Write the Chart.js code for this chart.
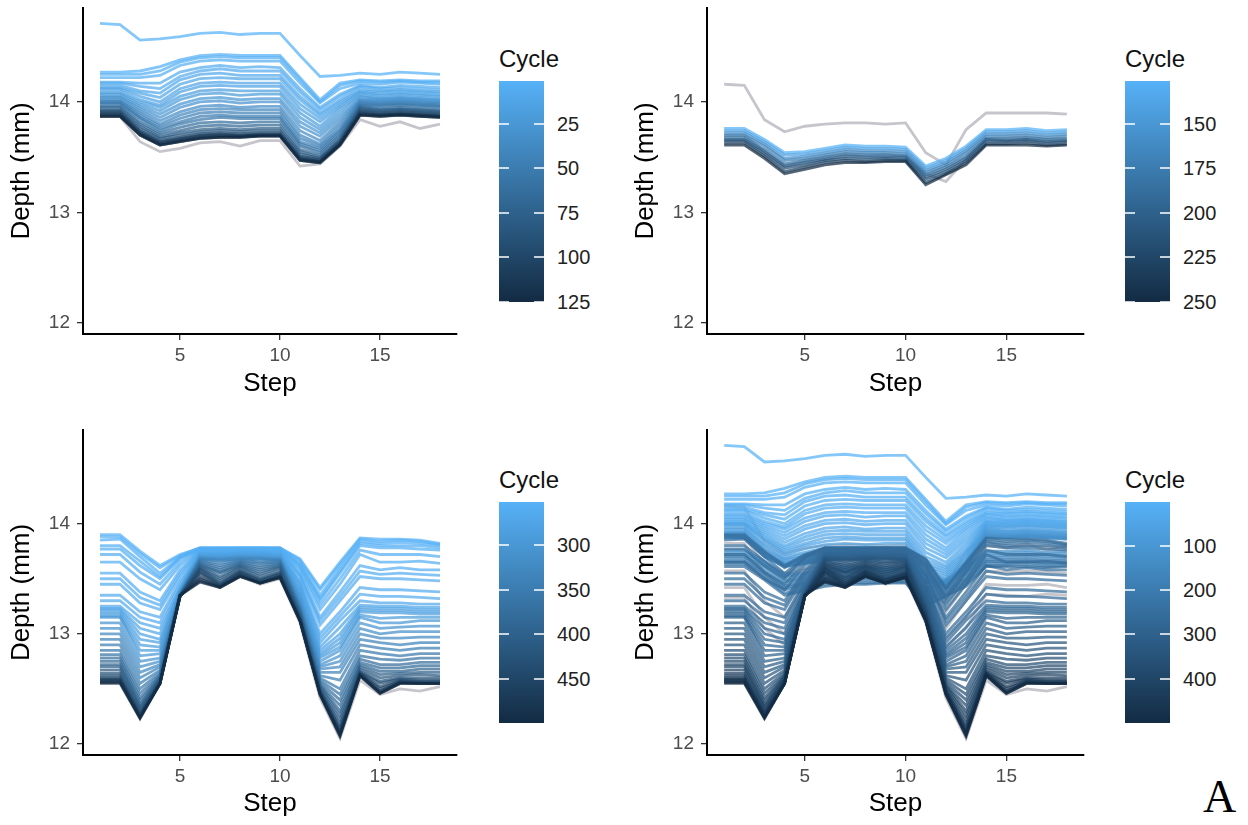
<!DOCTYPE html>
<html>
<head>
<meta charset="utf-8">
<script src="https://cdn.jsdelivr.net/npm/chart.js@4.4.0/dist/chart.umd.min.js"></script>
<style>
body { margin:0; background:#fff; width:1248px; height:825px; position:relative; overflow:hidden; font-family:"Liberation Sans", Arial, sans-serif; }
canvas { position:absolute; }
.bar { position:absolute; width:45px; height:221px; background:linear-gradient(#56B1F7, #132B43); }
.tk { position:absolute; height:2px; width:10px; background:rgba(255,255,255,0.75); }
.lab { position:absolute; font-size:20px; line-height:20px; color:#222; }
.ttl { position:absolute; font-size:24px; line-height:24px; color:#111; }
#tagA { position:absolute; left:1203px; top:770px; font:46px "Liberation Serif", serif; color:#000; }
</style>
</head>
<body>
<canvas id="c1" width="470" height="403" style="left:0px;top:0px"></canvas>
<canvas id="c2" width="470" height="403" style="left:624px;top:0px"></canvas>
<canvas id="c3" width="470" height="403" style="left:0px;top:420px"></canvas>
<canvas id="c4" width="470" height="403" style="left:624px;top:420px"></canvas>
<div id="tagA">A</div>
<script>
var steps = [1,2,3,4,5,6,7,8,9,10,11,12,13,14,15,16,17,18];
var xTicks = [5, 10, 15];
var yTicks = [12, 13, 14];

// cycles 1-125
var p1Cycles = [1, 2, 3, 4, 6, 7, 9, 11, 13, 15, 18, 21, 25, 30, 35, 40, 45, 50, 55, 62, 70, 78, 85, 92, 100, 108, 115, 120, 125];
var p1Depth = [
  [14.71,14.70,14.56,14.57,14.59,14.62,14.63,14.61,14.62,14.62,14.42,14.23,14.24,14.26,14.25,14.27,14.26,14.25],
  [14.27,14.27,14.28,14.32,14.38,14.42,14.43,14.42,14.42,14.42,14.22,14.02,14.17,14.20,14.19,14.20,14.19,14.19],
  [14.25,14.25,14.25,14.28,14.36,14.40,14.41,14.40,14.40,14.40,14.20,14.00,14.15,14.19,14.18,14.19,14.18,14.18],
  [14.22,14.22,14.22,14.24,14.33,14.37,14.38,14.37,14.37,14.37,14.17,13.99,14.12,14.17,14.16,14.18,14.17,14.16],
  [14.18,14.18,14.17,14.17,14.27,14.31,14.33,14.31,14.32,14.31,14.12,13.95,14.07,14.15,14.13,14.15,14.14,14.13],
  [14.17,14.17,14.14,14.12,14.23,14.28,14.30,14.28,14.28,14.28,14.09,13.93,14.05,14.14,14.12,14.13,14.12,14.11],
  [14.15,14.15,14.10,14.08,14.20,14.25,14.26,14.24,14.24,14.24,14.05,13.90,14.02,14.12,14.10,14.11,14.10,14.09],
  [14.13,14.13,14.08,14.04,14.16,14.21,14.22,14.21,14.21,14.21,14.02,13.88,14.00,14.10,14.09,14.10,14.09,14.08],
  [14.12,14.12,14.05,14.00,14.12,14.17,14.18,14.17,14.17,14.17,13.98,13.85,13.98,14.09,14.07,14.08,14.07,14.06],
  [14.10,14.10,14.02,13.97,14.09,14.14,14.15,14.14,14.14,14.14,13.94,13.82,13.96,14.08,14.06,14.07,14.06,14.05],
  [14.08,14.08,14.00,13.95,14.05,14.10,14.11,14.10,14.10,14.10,13.90,13.78,13.94,14.06,14.04,14.05,14.04,14.03],
  [14.07,14.07,13.98,13.92,14.02,14.07,14.08,14.06,14.07,14.07,13.86,13.75,13.91,14.05,14.03,14.04,14.03,14.02],
  [14.05,14.05,13.96,13.89,13.98,14.03,14.04,14.02,14.03,14.03,13.82,13.72,13.88,14.03,14.02,14.03,14.02,14.01],
  [14.04,14.04,13.94,13.86,13.95,14.00,14.01,13.99,14.00,14.00,13.78,13.69,13.85,14.02,14.01,14.02,14.01,14.00],
  [14.02,14.02,13.92,13.83,13.91,13.96,13.97,13.95,13.96,13.96,13.74,13.65,13.82,14.01,14.00,14.01,14.00,13.99],
  [14.01,14.01,13.90,13.80,13.88,13.93,13.94,13.93,13.93,13.93,13.70,13.62,13.79,14.00,13.99,14.00,13.99,13.98],
  [14.00,14.00,13.88,13.78,13.85,13.90,13.91,13.90,13.90,13.90,13.67,13.60,13.76,13.99,13.98,13.99,13.98,13.97],
  [13.99,13.99,13.86,13.76,13.82,13.87,13.88,13.87,13.87,13.87,13.64,13.58,13.74,13.98,13.97,13.98,13.97,13.96],
  [13.98,13.98,13.85,13.74,13.80,13.84,13.86,13.85,13.85,13.85,13.62,13.56,13.72,13.97,13.96,13.97,13.96,13.95],
  [13.96,13.96,13.82,13.72,13.77,13.81,13.82,13.81,13.82,13.82,13.60,13.54,13.70,13.96,13.94,13.95,13.94,13.93],
  [13.95,13.95,13.80,13.70,13.74,13.78,13.79,13.78,13.79,13.79,13.57,13.52,13.68,13.95,13.93,13.94,13.93,13.92],
  [13.93,13.93,13.78,13.68,13.72,13.75,13.76,13.75,13.76,13.76,13.55,13.50,13.66,13.94,13.92,13.93,13.92,13.91],
  [13.92,13.92,13.76,13.67,13.70,13.73,13.74,13.73,13.74,13.74,13.53,13.49,13.65,13.93,13.91,13.92,13.91,13.90],
  [13.91,13.91,13.74,13.65,13.68,13.71,13.72,13.71,13.72,13.72,13.51,13.48,13.64,13.92,13.90,13.91,13.90,13.89],
  [13.90,13.90,13.73,13.64,13.67,13.70,13.71,13.70,13.71,13.71,13.50,13.47,13.63,13.91,13.89,13.90,13.89,13.88],
  [13.89,13.89,13.72,13.63,13.66,13.69,13.70,13.69,13.70,13.70,13.49,13.46,13.62,13.90,13.88,13.89,13.88,13.87],
  [13.88,13.88,13.71,13.62,13.65,13.68,13.69,13.69,13.70,13.70,13.48,13.46,13.62,13.89,13.88,13.89,13.88,13.87],
  [13.87,13.87,13.70,13.61,13.64,13.67,13.68,13.68,13.69,13.69,13.47,13.45,13.61,13.88,13.87,13.88,13.87,13.86],
  [13.87,13.87,13.70,13.61,13.64,13.67,13.68,13.68,13.69,13.69,13.47,13.45,13.61,13.88,13.87,13.88,13.87,13.86]
];
var p1Grey = [
  [13.87,13.87,13.64,13.55,13.58,13.63,13.64,13.60,13.65,13.65,13.42,13.44,13.60,13.84,13.78,13.82,13.76,13.80]
];

// cycles 126-250
var p2Cycles = [126, 140, 155, 170, 185, 200, 215, 230, 250];
var p2Depth = [
  [13.76,13.76,13.66,13.54,13.55,13.58,13.61,13.60,13.60,13.59,13.42,13.49,13.60,13.75,13.75,13.76,13.74,13.75],
  [13.74,13.74,13.64,13.52,13.53,13.56,13.59,13.58,13.58,13.57,13.40,13.47,13.58,13.73,13.73,13.74,13.72,13.73],
  [13.72,13.72,13.62,13.49,13.51,13.54,13.57,13.56,13.56,13.55,13.38,13.45,13.56,13.71,13.71,13.72,13.70,13.71],
  [13.70,13.70,13.60,13.47,13.49,13.52,13.55,13.54,13.54,13.53,13.36,13.43,13.54,13.69,13.69,13.70,13.68,13.69],
  [13.68,13.68,13.57,13.44,13.47,13.50,13.53,13.52,13.52,13.51,13.34,13.41,13.51,13.67,13.67,13.68,13.66,13.67],
  [13.66,13.66,13.55,13.42,13.45,13.48,13.51,13.50,13.50,13.50,13.32,13.39,13.49,13.66,13.65,13.66,13.64,13.65],
  [13.65,13.65,13.53,13.40,13.43,13.47,13.49,13.48,13.49,13.48,13.30,13.37,13.47,13.64,13.64,13.65,13.63,13.64],
  [13.63,13.63,13.51,13.37,13.41,13.45,13.47,13.46,13.47,13.47,13.27,13.35,13.45,13.62,13.62,13.63,13.61,13.62],
  [13.61,13.61,13.49,13.35,13.39,13.43,13.45,13.45,13.46,13.46,13.25,13.34,13.43,13.61,13.61,13.61,13.60,13.61]
];
var p2Grey = [
  [14.16,14.15,13.84,13.73,13.78,13.80,13.81,13.81,13.80,13.81,13.54,13.43,13.75,13.90,13.90,13.90,13.90,13.89],
  [13.70,13.70,13.55,13.42,13.46,13.50,13.52,13.51,13.52,13.51,13.35,13.28,13.48,13.66,13.66,13.67,13.66,13.66]
];

// cycles 251-500
var p3Cycles = [251, 252, 253, 254, 255, 256, 257, 258, 259, 260, 262, 264, 268, 272, 276, 280, 285, 290, 295, 305,
                315, 325, 335, 345, 355, 365, 375, 385, 395, 405, 415, 425, 435, 445, 455, 465, 475, 488, 500];
var p3Depth = [
  [13.90,13.90,13.75,13.62,13.72,13.78,13.78,13.78,13.78,13.78,13.68,13.42,13.65,13.87,13.86,13.86,13.85,13.82],
  [13.88,13.88,13.73,13.60,13.71,13.78,13.78,13.78,13.78,13.78,13.67,13.40,13.63,13.86,13.84,13.85,13.84,13.81],
  [13.85,13.86,13.70,13.55,13.70,13.78,13.78,13.78,13.78,13.78,13.65,13.35,13.60,13.84,13.82,13.83,13.82,13.80],
  [13.80,13.80,13.66,13.52,13.69,13.77,13.77,13.78,13.78,13.77,13.63,13.32,13.57,13.82,13.80,13.80,13.80,13.78],
  [13.77,13.77,13.62,13.50,13.68,13.77,13.77,13.77,13.77,13.77,13.62,13.30,13.55,13.80,13.78,13.78,13.77,13.76],
  [13.72,13.72,13.56,13.45,13.65,13.77,13.77,13.77,13.77,13.77,13.60,13.26,13.50,13.76,13.72,13.72,13.72,13.70],
  [13.65,13.65,13.50,13.40,13.62,13.76,13.76,13.77,13.77,13.76,13.58,13.22,13.45,13.72,13.65,13.65,13.66,13.64],
  [13.55,13.55,13.38,13.30,13.58,13.76,13.76,13.76,13.76,13.76,13.55,13.15,13.38,13.62,13.58,13.60,13.58,13.58],
  [13.50,13.50,13.33,13.26,13.55,13.75,13.75,13.76,13.76,13.75,13.53,13.12,13.34,13.57,13.54,13.55,13.54,13.53],
  [13.45,13.45,13.28,13.22,13.52,13.75,13.75,13.76,13.76,13.75,13.52,13.08,13.30,13.52,13.50,13.50,13.49,13.48],
  [13.35,13.35,13.20,13.15,13.48,13.74,13.74,13.75,13.75,13.74,13.48,13.00,13.20,13.42,13.40,13.40,13.39,13.38],
  [13.30,13.30,13.15,13.10,13.45,13.73,13.73,13.74,13.74,13.73,13.46,12.96,13.16,13.36,13.34,13.34,13.33,13.32],
  [13.25,13.25,13.10,13.05,13.42,13.73,13.73,13.74,13.74,13.73,13.45,12.92,13.12,13.30,13.28,13.28,13.27,13.27],
  [13.23,13.23,13.05,13.00,13.41,13.73,13.72,13.73,13.73,13.72,13.42,12.88,13.06,13.26,13.25,13.25,13.24,13.24],
  [13.22,13.22,13.00,12.95,13.40,13.72,13.72,13.73,13.73,13.72,13.40,12.85,13.00,13.24,13.23,13.23,13.22,13.22],
  [13.20,13.20,12.95,12.92,13.39,13.71,13.71,13.72,13.72,13.71,13.38,12.82,12.96,13.22,13.21,13.21,13.20,13.20],
  [13.18,13.18,12.90,12.88,13.38,13.71,13.70,13.71,13.71,13.70,13.35,12.80,12.92,13.20,13.19,13.19,13.18,13.18],
  [13.16,13.16,12.85,12.85,13.38,13.70,13.70,13.71,13.71,13.70,13.34,12.78,12.88,13.17,13.14,13.15,13.15,13.15],
  [13.15,13.15,12.80,12.82,13.37,13.70,13.69,13.70,13.70,13.69,13.32,12.75,12.85,13.15,13.10,13.10,13.12,13.12],
  [13.10,13.10,12.75,12.78,13.37,13.69,13.68,13.70,13.69,13.68,13.30,12.72,12.80,13.10,13.05,13.06,13.07,13.07],
  [13.05,13.05,12.70,12.75,13.36,13.69,13.68,13.69,13.69,13.68,13.28,12.70,12.75,13.05,13.00,13.02,13.02,13.02],
  [13.00,13.00,12.65,12.72,13.36,13.68,13.67,13.68,13.68,13.67,13.26,12.68,12.70,13.00,12.96,12.96,12.97,12.97],
  [12.95,12.95,12.60,12.70,13.36,13.68,13.66,13.68,13.67,13.67,13.25,12.65,12.65,12.95,12.92,12.90,12.92,12.92],
  [12.90,12.90,12.55,12.67,13.35,13.67,13.64,13.67,13.65,13.66,13.23,12.62,12.58,12.90,12.87,12.85,12.87,12.87],
  [12.85,12.85,12.50,12.65,13.35,13.66,13.62,13.66,13.64,13.65,13.22,12.60,12.50,12.85,12.82,12.80,12.82,12.82],
  [12.81,12.81,12.46,12.63,13.35,13.65,13.60,13.65,13.62,13.64,13.21,12.58,12.45,12.80,12.77,12.76,12.78,12.78],
  [12.78,12.78,12.42,12.62,13.35,13.64,13.58,13.64,13.60,13.63,13.20,12.56,12.40,12.77,12.72,12.72,12.74,12.74],
  [12.75,12.75,12.39,12.61,13.35,13.63,13.56,13.63,13.58,13.62,13.19,12.54,12.35,12.74,12.69,12.69,12.71,12.71],
  [12.72,12.72,12.36,12.60,13.35,13.62,13.55,13.62,13.56,13.61,13.18,12.53,12.30,12.72,12.66,12.66,12.68,12.68],
  [12.70,12.70,12.34,12.59,13.34,13.61,13.52,13.61,13.54,13.60,13.17,12.52,12.26,12.70,12.63,12.64,12.65,12.65],
  [12.67,12.67,12.32,12.58,13.34,13.60,13.50,13.60,13.52,13.58,13.16,12.50,12.22,12.68,12.60,12.62,12.63,12.62],
  [12.64,12.64,12.30,12.57,13.34,13.59,13.48,13.58,13.50,13.56,13.15,12.49,12.18,12.66,12.57,12.60,12.60,12.60],
  [12.62,12.62,12.28,12.56,13.34,13.58,13.46,13.57,13.49,13.55,13.14,12.48,12.15,12.65,12.55,12.59,12.58,12.58],
  [12.60,12.60,12.27,12.56,13.34,13.56,13.45,13.56,13.48,13.54,13.13,12.47,12.13,12.64,12.52,12.58,12.57,12.57],
  [12.59,12.59,12.26,12.55,13.34,13.55,13.44,13.55,13.47,13.53,13.13,12.47,12.11,12.64,12.50,12.57,12.56,12.56],
  [12.58,12.58,12.25,12.55,13.34,13.52,13.43,13.54,13.46,13.52,13.12,12.46,12.10,12.63,12.48,12.56,12.55,12.55],
  [12.57,12.57,12.24,12.55,13.35,13.50,13.43,13.53,13.46,13.52,13.12,12.46,12.09,12.63,12.47,12.56,12.55,12.55],
  [12.56,12.56,12.24,12.55,13.35,13.48,13.42,13.52,13.46,13.51,13.12,12.45,12.08,12.62,12.46,12.55,12.55,12.55],
  [12.55,12.55,12.23,12.55,13.35,13.47,13.42,13.52,13.46,13.51,13.12,12.45,12.07,12.62,12.46,12.55,12.55,12.55]
];
var p3Grey = [
  [12.58,12.58,12.25,12.55,13.36,13.50,13.42,13.52,13.45,13.50,13.10,12.42,12.05,12.58,12.45,12.50,12.48,12.52]
];

// extra grey runs only shown in the all-cycles panel
var p4Grey = [
  [13.82,13.82,13.55,13.40,13.55,13.62,13.62,13.60,13.62,13.62,13.45,13.20,13.45,13.80,13.78,13.80,13.79,13.78],
  [13.57,13.57,13.30,13.15,13.45,13.60,13.60,13.58,13.60,13.60,13.40,13.05,13.30,13.57,13.56,13.57,13.56,13.55],
  [13.42,13.42,13.15,13.00,13.42,13.58,13.58,13.57,13.58,13.58,13.36,12.95,13.15,13.45,13.44,13.44,13.45,13.42],
  [13.33,13.33,13.05,12.90,13.40,13.56,13.56,13.55,13.56,13.56,13.33,12.88,13.05,13.36,13.35,13.34,13.36,13.35]
];

var p1Legend = [25, 50, 75, 100, 125];
var p2Legend = [150, 175, 200, 225, 250];
var p3Legend = [300, 350, 400, 450];
var p4Legend = [100, 200, 300, 400];

var lightBlue = [86, 177, 247];
var darkBlue = [19, 43, 67];

function cycleColor(c, lo, hi, a) {
  var t = (c - lo) / (hi - lo);
  var rgb = lightBlue.map(function(v, k) { return Math.round(v + (darkBlue[k] - v) * t); });
  return "rgba(" + rgb.join(",") + "," + a + ")";
}

function lineSet(vals, color, order) {
  return {
    data: steps.map(function(s, i) { return {x: s, y: vals[i]}; }),
    borderColor: color,
    borderWidth: 2.8,
    pointRadius: 0,
    tension: 0,
    order: order
  };
}

function buildSets(cycles, depth, lo, hi) {
  return cycles.map(function(c, i) {
    return lineSet(depth[i], cycleColor(c, lo, hi, 0.72), -c);
  });
}

function greySets(list) {
  return list.map(function(v) { return lineSet(v, "rgba(150,150,160,0.55)", 1); });
}

function makeChart(id, datasets, box) {
  new Chart(document.getElementById(id), {
    type: "line",
    data: { datasets: datasets },
    options: {
      responsive: false,
      animation: false,
      layout: { padding: { top: box.padTop, right: box.padRight, left: 0, bottom: 0 } },
      plugins: { legend: { display: false }, tooltip: { enabled: false } },
      scales: {
        x: {
          type: "linear", min: 0.15, max: 18.85,
          afterBuildTicks: function(s) { s.ticks = xTicks.map(function(v) { return {value: v}; }); },
          afterFit: function(s) { s.height = box.xH; s.paddingLeft = 0; s.paddingRight = 0; },
          grid: { drawOnChartArea: false, drawTicks: true, tickLength: 6, color: "#333", lineWidth: 1.3 },
          border: { display: true, color: "#000", width: 2 },
          ticks: { color: "#4D4D4D", font: { size: 19 }, padding: 4, maxRotation: 0 },
          title: { display: true, text: "Step", color: "#000", font: { size: 26 }, padding: { top: 0, bottom: 4 } }
        },
        y: {
          type: "linear", min: 11.9, max: 14.85,
          afterBuildTicks: function(s) { s.ticks = yTicks.map(function(v) { return {value: v}; }); },
          afterFit: function(s) { s.width = 83; s.paddingTop = 0; s.paddingBottom = 0; },
          grid: { drawOnChartArea: false, drawTicks: true, tickLength: 6, color: "#333", lineWidth: 1.3 },
          border: { display: true, color: "#000", width: 2 },
          ticks: { color: "#4D4D4D", font: { size: 19 }, padding: 7 },
          title: { display: true, text: "Depth (mm)", color: "#000", font: { size: 26 }, padding: { top: 6, bottom: 0 } }
        }
      }
    }
  });
}

Chart.defaults.font.family = "'Liberation Sans', Arial, sans-serif";

makeChart("c1", greySets(p1Grey).concat(buildSets(p1Cycles, p1Depth, 1, 125)), { padTop: 8, padRight: 13, xH: 403 - 334 });
makeChart("c2", greySets(p2Grey).concat(buildSets(p2Cycles, p2Depth, 126, 250)), { padTop: 8, padRight: 10, xH: 403 - 334 });
makeChart("c3", greySets(p3Grey).concat(buildSets(p3Cycles, p3Depth, 251, 500)), { padTop: 10, padRight: 13, xH: 403 - 335 });
makeChart("c4",
  greySets(p1Grey.concat(p2Grey, p3Grey, p4Grey))
    .concat(buildSets(p1Cycles, p1Depth, 1, 500))
    .concat(buildSets(p2Cycles, p2Depth, 1, 500))
    .concat(buildSets(p3Cycles, p3Depth, 1, 500)),
  { padTop: 10, padRight: 10, xH: 403 - 335 });

// colour bars
function colorBar(left, top, lo, hi, labels) {
  var h = 221;
  var html = '<div class="ttl" style="left:' + left + 'px;top:' + (top - 34) + 'px">Cycle</div>';
  html += '<div class="bar" style="left:' + left + 'px;top:' + top + 'px"></div>';
  labels.forEach(function(v) {
    var y = top + (v - lo) / (hi - lo) * h;
    html += '<div class="tk" style="left:' + left + 'px;top:' + (y - 1) + 'px"></div>';
    html += '<div class="tk" style="left:' + (left + 35) + 'px;top:' + (y - 1) + 'px"></div>';
    html += '<div class="lab" style="left:' + (left + 58) + 'px;top:' + (y - 10) + 'px">' + v + '</div>';
  });
  document.body.insertAdjacentHTML("beforeend", html);
}
colorBar(499, 81, 1, 125, p1Legend);
colorBar(1125, 81, 126, 250, p2Legend);
colorBar(499, 502, 251, 500, p3Legend);
colorBar(1125, 502, 1, 500, p4Legend);
</script>
</body>
</html>
